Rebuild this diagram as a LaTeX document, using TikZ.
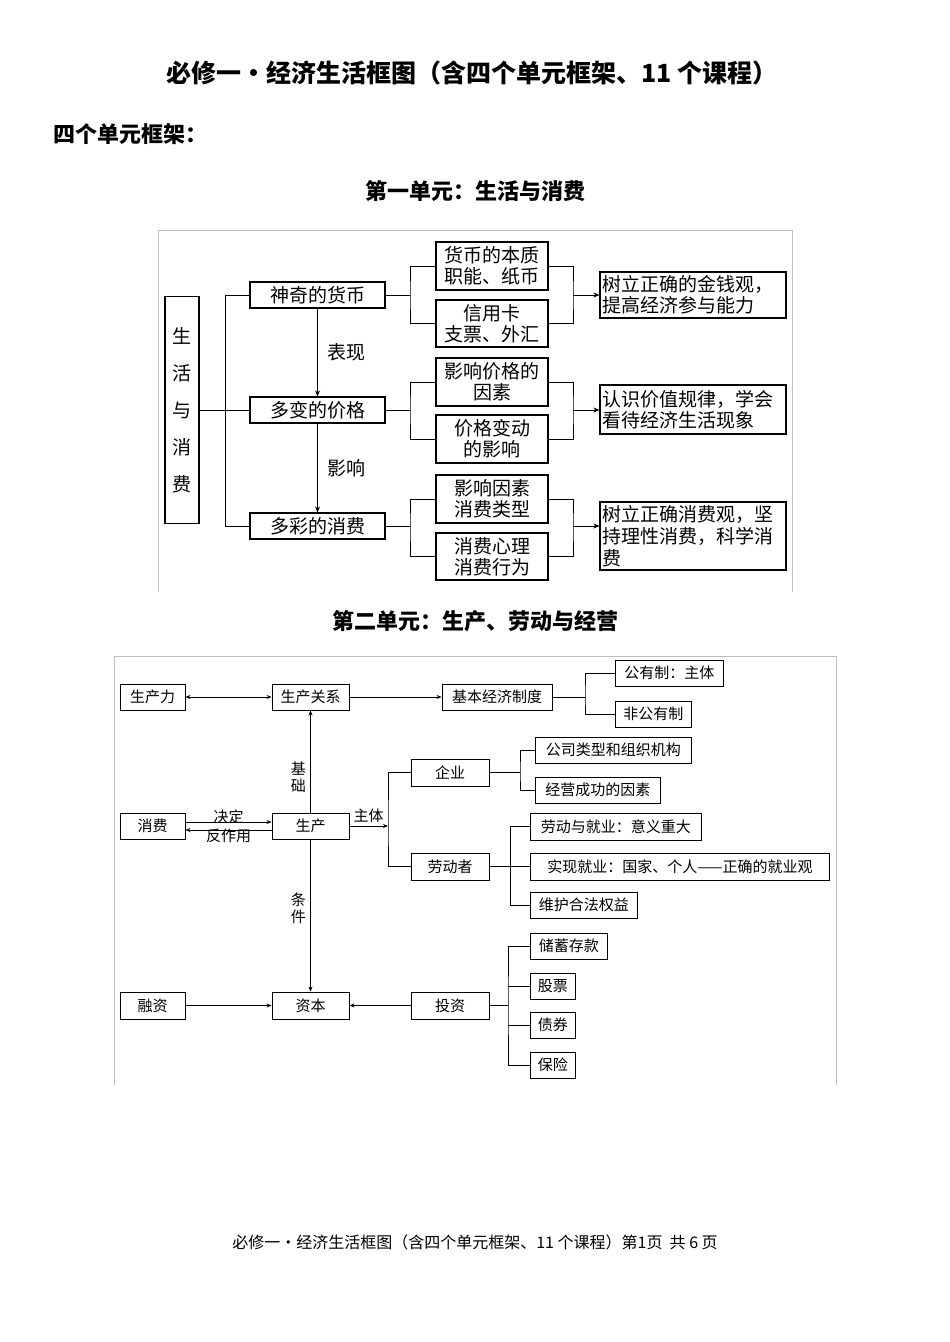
\documentclass[tikz,border=0pt]{standalone}
\usepackage{fontspec}
\setmainfont{Noto Sans CJK SC}
\newfontfamily\cjk{Noto Sans CJK SC}
\usetikzlibrary{arrows.meta}
\begin{document}
\begin{tikzpicture}[x=1pt,y=-1pt,
 bxa/.style={draw,line width=1.1pt,inner sep=0pt,align=center,font=\fontsize{19}{21}\selectfont},
 bxb/.style={draw,line width=0.9pt,inner sep=0pt,align=center,font=\fontsize{15}{17}\selectfont},
 ln/.style={line width=0.8pt},
 ar/.style={line width=0.8pt,-{Stealth[length=6pt,width=5pt]}},
 arb/.style={line width=0.6pt,-{Stealth[length=5pt,width=4pt]}},
 lab/.style={font=\fontsize{19}{21}\selectfont},
 labb/.style={font=\fontsize{15}{17}\selectfont}]
\useasboundingbox (0,0) rectangle (950,1342);
\node[font=\fontsize{25}{27}\selectfont\bfseries] (t) at (472,73) {必修一•经济生活框图（含四个单元框架、11 个课程）};
\node[font=\fontsize{22}{24}\selectfont\bfseries,anchor=west] (t2) at (50,134) {四个单元框架：};
\node[font=\fontsize{22}{24}\selectfont\bfseries] (t3) at (475,191) {第一单元：生活与消费};
\node[font=\fontsize{22}{24}\selectfont\bfseries] (t4) at (475,621) {第二单元：生产、劳动与经营};
\node[font=\fontsize{16}{18}\selectfont] (ft) at (475,1242) {必修一•经济生活框图（含四个单元框架、11 个课程）第1页\ \ 共 6 页};
% ---------- diagram 1
\draw[gray!50,line width=0.6pt] (158,592) -- (158,230) -- (792,230) -- (792,592);
\node[bxa,minimum width=34pt,minimum height=227pt] (root) at (182,410) {生\\[16pt]活\\[16pt]与\\[16pt]消\\[16pt]费};
\node[bxa,minimum width=135pt,minimum height=26pt] (m1) at (317.5,295) {神奇的货币};
\node[bxa,minimum width=135pt,minimum height=26pt] (m2) at (317.5,410) {多变的价格};
\node[bxa,minimum width=135pt,minimum height=26pt] (m3) at (317.5,526) {多彩的消费};
\draw[ln] (root.east) -- (m2.west);
\draw[ln] (m1.west) -- (225,295) -- (225,526) -- (m3.west);
\draw[ar] (m1.south) -- node[lab,right=6pt]{表现} (m2.north);
\draw[ar] (m2.south) -- node[lab,right=6pt]{影响} (m3.north);
\node[bxa,minimum width=112pt,minimum height=48pt] (a1) at (492,266) {货币的本质\\职能、纸币};
\node[bxa,minimum width=112pt,minimum height=47pt] (a2) at (492,323.5) {信用卡\\支票、外汇};
\node[bxa,minimum width=112pt,minimum height=48pt] (a3) at (492,382) {影响价格的\\因素};
\node[bxa,minimum width=112pt,minimum height=48pt] (a4) at (492,439) {价格变动\\的影响};
\node[bxa,minimum width=112pt,minimum height=48pt] (a5) at (492,499) {影响因素\\消费类型};
\node[bxa,minimum width=112pt,minimum height=47pt] (a6) at (492,556.5) {消费心理\\消费行为};
\node[bxa,minimum width=186pt,minimum height=46pt,align=left,text width=182pt] (r1) at (693,295) {树立正确的金钱观，\\提高经济参与能力};
\node[bxa,minimum width=186pt,minimum height=49pt,align=left,text width=182pt] (r2) at (693,409.5) {认识价值规律，学会\\看待经济生活现象};
\node[bxa,minimum width=186pt,minimum height=68pt,align=left,text width=182pt,font=\fontsize{19}{22}\selectfont] (r3) at (693,536) {树立正确消费观，坚\\持理性消费，科学消\\费};
\foreach \m/\u/\d/\r/\cy in {m1/a1/a2/r1/295,m2/a3/a4/r2/410,m3/a5/a6/r3/526}{
 \draw[ln] (\m.east) -- (410,\cy);
 \draw[ln] (\u.west) -| (410,\cy) |- (\d.west);
 \draw[ln] (\u.east) -| (573,\cy) |- (\d.east);
 \draw[ar] (573,\cy) -- (\r.west |- 0,\cy);
}
% ---------- diagram 2
\draw[gray!50,line width=0.6pt] (114,1085) -- (114,656) -- (836,656) -- (836,1085);
\node[bxb,minimum width=65pt,minimum height=26pt] (scl) at (152.5,697) {生产力};
\node[bxb,minimum width=77pt,minimum height=26pt] (scgx) at (310.5,697) {生产关系};
\node[bxb,minimum width=110pt,minimum height=26pt] (jbzd) at (497,697) {基本经济制度};
\node[bxb,minimum width=108pt,minimum height=26pt,anchor=west] (gy) at (615,673) {公有制：主体};
\node[bxb,minimum width=76pt,minimum height=26pt,anchor=west] (fgy) at (615,714) {非公有制};
\draw[arb,{Stealth[length=5pt,width=4pt]}-{Stealth[length=5pt,width=4pt]}] (scl) -- (scgx);
\draw[arb] (scgx) -- (jbzd);
\draw[ln] (jbzd.east) -- (585,697);
\draw[ln] (gy.west) -| (585,697) |- (fgy.west);
\node[bxb,minimum width=78pt,minimum height=27pt] (qy) at (450,772.5) {企业};
\node[bxb,minimum width=156pt,minimum height=26pt,anchor=west] (gs) at (535,750) {公司类型和组织机构};
\node[bxb,minimum width=125pt,minimum height=26pt,anchor=west] (jy) at (535,790) {经营成功的因素};
\draw[ln] (qy.east) -- (520,772.5);
\draw[ln] (gs.west) -| (520,772.5) |- (jy.west);
\node[bxb,minimum width=65pt,minimum height=26pt] (xf) at (152.5,826) {消费};
\node[bxb,minimum width=77pt,minimum height=26pt] (sc) at (310.5,826) {生产};
\coordinate (jz) at (388,826);
\draw[arb] (sc.east) -- node[labb,above]{主体} (jz);
\node[bxb,minimum width=78pt,minimum height=27pt] (ldz) at (450,866.5) {劳动者};
\draw[ln] (qy.west) -| (jz) |- (ldz.west);
\node[bxb,minimum width=171pt,minimum height=27pt,anchor=west] (l1) at (530,826.5) {劳动与就业：意义重大};
\node[bxb,minimum width=299pt,minimum height=27pt,anchor=west] (l2) at (530,866.5) {实现就业：国家、个人——正确的就业观};
\node[bxb,minimum width=107pt,minimum height=26pt,anchor=west] (l3) at (530,905) {维护合法权益};
\draw[ln] (ldz.east) -- (l2.west);
\draw[ln] (l1.west) -- (510,826.5) -- (510,905) -- (l3.west);
\draw[arb] ([yshift=-4pt]sc.west) -- node[labb,above=3pt]{决定} ([yshift=-4pt]xf.east);
\draw[arb] ([yshift=4pt]xf.east) -- node[labb,below=3pt]{反作用} ([yshift=4pt]sc.west);
\node[bxb,minimum width=65pt,minimum height=27pt] (rz) at (152.5,1005.5) {融资};
\node[bxb,minimum width=77pt,minimum height=27pt] (zb) at (310.5,1005.5) {资本};
\node[bxb,minimum width=78pt,minimum height=27pt] (tz) at (450,1005.5) {投资};
\draw[arb] (sc.north) -- node[labb,left=1pt,align=center,pos=0.35]{基\\础} (scgx.south);
\draw[arb] (sc.south) -- node[labb,left=1pt,align=center,pos=0.45]{条\\件} (zb.north);
\draw[arb] (rz) -- (zb);
\draw[arb] (tz) -- (zb);
\node[bxb,minimum width=77pt,minimum height=26pt,anchor=west] (i1) at (530,946) {储蓄存款};
\node[bxb,minimum width=45pt,minimum height=26pt,anchor=west] (i2) at (530,986) {股票};
\node[bxb,minimum width=45pt,minimum height=26pt,anchor=west] (i3) at (530,1025) {债券};
\node[bxb,minimum width=45pt,minimum height=26pt,anchor=west] (i4) at (530,1065) {保险};
\draw[ln] (tz.east) -- (508,1005.5);
\draw[ln] (i1.west) -| (508,1005.5) |- (i4.west);
\draw[ln] (i2.west) -- (508,986);
\draw[ln] (i3.west) -- (508,1025);
\end{tikzpicture}
\end{document}
